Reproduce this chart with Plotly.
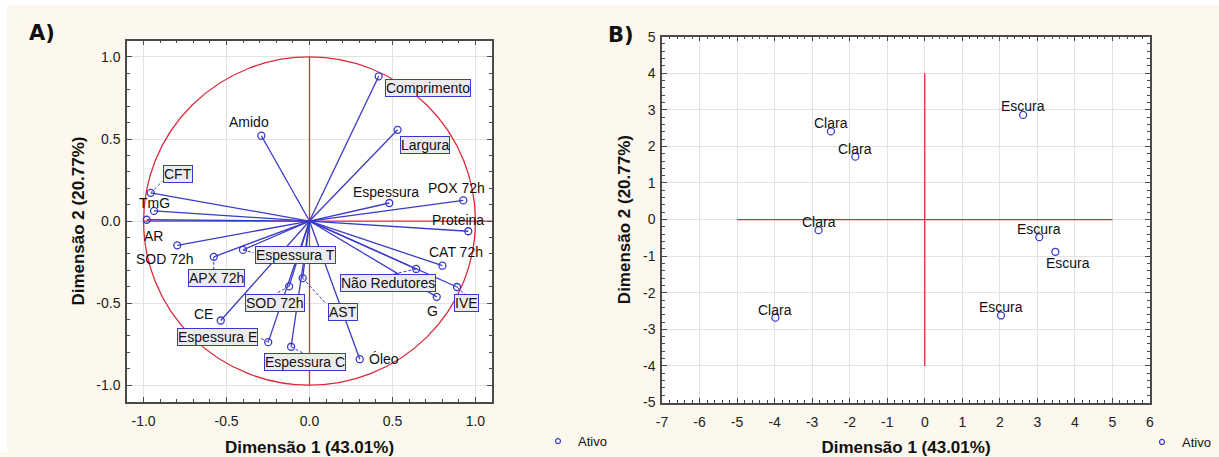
import plotly.graph_objects as go

W, H = 1219, 457

# Variable loadings on the first two dimensions
variaveis = ["Amido", "CFT", "TmG", "AR", "SOD 72h", "APX 72h", "Espessura T", "CE",
             "Espessura E", "SOD 72h", "AST", "Espessura C", "Óleo", "Comprimento",
             "Largura", "Espessura", "POX 72h", "Proteina", "CAT 72h", "Não Redutores",
             "IVE", "G"]
dim1_var = [-0.29, -0.957, -0.937, -0.981, -0.797, -0.577, -0.401, -0.535,
            -0.249, -0.123, -0.041, -0.111, 0.303, 0.417,
            0.531, 0.481, 0.927, 0.957, 0.801, 0.643,
            0.889, 0.767]
dim2_var = [0.52, 0.172, 0.062, 0.008, -0.148, -0.218, -0.176, -0.606,
            -0.738, -0.398, -0.348, -0.766, -0.842, 0.882,
            0.556, 0.110, 0.126, -0.062, -0.272, -0.292,
            -0.402, -0.462]

# Sample scores on the first two dimensions
amostras = ["Clara", "Clara", "Clara", "Clara", "Escura", "Escura", "Escura", "Escura"]
dim1_obs = [-2.5, -1.85, -2.83, -3.98, 2.62, 3.05, 3.48, 2.03]
dim2_obs = [2.41, 1.72, -0.29, -2.68, 2.86, -0.48, -0.88, -2.62]

# Tick values and labels
ticks_a = [-1.0, -0.5, 0.0, 0.5, 1.0]
ticktext_a = ["-1.0", "-0.5", "0.0", "0.5", "1.0"]
ticks_bx = [-7, -6, -5, -4, -3, -2, -1, 0, 1, 2, 3, 4, 5, 6]
ticktext_bx = ["-7", "-6", "-5", "-4", "-3", "-2", "-1", "0", "1", "2", "3", "4", "5", "6"]
ticks_by = [-5, -4, -3, -2, -1, 0, 1, 2, 3, 4, 5]
ticktext_by = ["-5", "-4", "-3", "-2", "-1", "0", "1", "2", "3", "4", "5"]

titulo_x = "Dimensão 1 (43.01%)"
titulo_y = "Dimensão 2 (20.77%)"

# Label placement for each variable: boxed?, pixel shift (dx, dy up), dashed leader end
label_layout = [
    (False, -12, 14, None),                  # Amido
    (True, 27.5, 19, (11.7, 11.6)),          # CFT
    (False, 0, 8, None),                     # TmG
    (False, 7, -16, None),                   # AR
    (False, -12.7, -13.5, None),             # SOD 72h
    (True, 2.5, -21, (0, -12.7)),            # APX 72h
    (True, 52.3, -4.7, (10.6, -2.7)),        # Espessura T
    (False, -17, 6.7, None),                 # CE
    (True, -50.2, 5, (-8, 4)),               # Espessura E
    (True, -13.7, -16.2, (-12.3, -6.7)),     # SOD 72h (boxed)
    (True, 39.8, -34.2, (22.3, -24.3)),      # AST
    (True, 14, -15.3, (12.3, -6.6)),         # Espessura C
    (False, 24.3, 0, None),                  # Óleo
    (True, 49.5, -12, None),                 # Comprimento
    (True, 27.8, -15.2, None),               # Largura
    (False, -3.5, 11, None),                 # Espessura
    (False, -6.7, 12, None),                 # POX 72h
    (False, -9.8, 11.7, None),               # Proteina
    (False, 13.3, 14, None),                 # CAT 72h
    (True, -28.2, -13.8, (-25, -5.7)),       # Não Redutores
    (True, 9.5, -15.5, (9, -8.3)),           # IVE
    (False, -4.3, -14, None),                # G
]
# Sample label shifts (dx, dy up)
obs_shift = [(0, 8), (0, 8), (0, 8), (0, 8), (0, 9), (0, 8), (13, -11), (0, 8)]

FONT = "Liberation Sans, Arial, sans-serif"
BLUE = "#3a3ac8"
RED = "#dc2a3c"
FRAME = "#4a4a4a"
GRID = "#e2e2e2"

fig = go.Figure()

# Vectors from the origin to each variable
vx, vy = [], []
for x, y in zip(dim1_var, dim2_var):
    vx += [0, x, None]
    vy += [0, y, None]
fig.add_trace(go.Scatter(x=vx, y=vy, mode="lines", line=dict(color=BLUE, width=1.3),
                         hoverinfo="skip", showlegend=False, xaxis="x", yaxis="y"))
fig.add_trace(go.Scatter(x=dim1_var, y=dim2_var, mode="markers", name="Ativo",
                         text=variaveis, showlegend=False,
                         marker=dict(symbol="circle-open", size=7, color=BLUE,
                                     line=dict(width=1.3)),
                         xaxis="x", yaxis="y"))

# Sample scores
fig.add_trace(go.Scatter(x=dim1_obs, y=dim2_obs, mode="markers", name="Ativo",
                         text=amostras, showlegend=False,
                         marker=dict(symbol="circle-open", size=7, color=BLUE,
                                     line=dict(width=1.3)),
                         xaxis="x2", yaxis="y2"))

# Legend entries (small open circle)
for leg, xa, ya in [("legend", "x", "y"), ("legend2", "x2", "y2")]:
    fig.add_trace(go.Scatter(x=[None], y=[None], mode="markers", name="Ativo",
                             marker=dict(symbol="circle-open", size=5, color=BLUE,
                                         line=dict(width=1.2)),
                             legend=leg, xaxis=xa, yaxis=ya))

shapes = []
annotations = []

# Unit circle and axis reference lines (panel A)
R = 1.0
shapes.append(dict(type="circle", xref="x", yref="y", x0=-R, x1=R, y0=-R, y1=R,
                   line=dict(color=RED, width=1.3), layer="between"))
shapes.append(dict(type="line", xref="x", yref="y", x0=-R, x1=1.1, y0=0, y1=0,
                   line=dict(color=RED, width=1.3), layer="between"))
shapes.append(dict(type="line", xref="x", yref="y", x0=0, x1=0, y0=-R, y1=R,
                   line=dict(color=RED, width=1.3), layer="between"))

# Reference lines (panel B)
shapes.append(dict(type="line", xref="x2", yref="y2", x0=-5, x1=5, y0=0, y1=0,
                   line=dict(color=RED, width=1.3), layer="between"))
shapes.append(dict(type="line", xref="x2", yref="y2", x0=0, x1=0, y0=-4, y1=4,
                   line=dict(color=RED, width=1.3), layer="between"))

# Variable labels
for name, x, y, (boxed, dx, dy, lead) in zip(variaveis, dim1_var, dim2_var, label_layout):
    ann = dict(text=name, x=x, y=y, xref="x", yref="y", xshift=dx, yshift=dy,
               showarrow=False, xanchor="center", yanchor="middle",
               font=dict(family=FONT, size=14, color="#111"))
    if boxed:
        ann.update(bordercolor=BLUE, borderwidth=1, borderpad=0, bgcolor="#ebebef")
    annotations.append(ann)
    if lead is not None:
        shapes.append(dict(type="line", xref="x", yref="y",
                           xsizemode="pixel", ysizemode="pixel",
                           xanchor=x, yanchor=y, x0=0, y0=0, x1=lead[0], y1=lead[1],
                           line=dict(color=BLUE, width=1, dash="3px,2px"),
                           layer="above"))

# Sample labels
for name, x, y, (dx, dy) in zip(amostras, dim1_obs, dim2_obs, obs_shift):
    annotations.append(dict(text=name, x=x, y=y, xref="x2", yref="y2",
                            xshift=dx, yshift=dy, showarrow=False,
                            font=dict(family=FONT, size=14, color="#111")))

# Panel letters
annotations.append(dict(text="<b>A)</b>", x=27 / W, y=1 - 33 / H, xref="paper", yref="paper",
                        xanchor="left", yanchor="middle", showarrow=False,
                        font=dict(family="DejaVu Sans, Verdana", size=21, color="#111")))
annotations.append(dict(text="<b>B)</b>", x=606 / W, y=1 - 35 / H, xref="paper", yref="paper",
                        xanchor="left", yanchor="middle", showarrow=False,
                        font=dict(family="DejaVu Sans, Verdana", size=21, color="#111")))

# White strip along the top and left edges of the page
shapes.append(dict(type="rect", xref="paper", yref="paper", x0=0, x1=1, y0=1 - 5 / H, y1=1,
                   fillcolor="white", line=dict(width=0), layer="below"))
shapes.append(dict(type="rect", xref="paper", yref="paper", x0=0, x1=7 / W, y0=0, y1=1,
                   fillcolor="white", line=dict(width=0), layer="below"))


def axis_style(domain, rng, tickvals, ticktext, minor_dtick, title, standoff, lblstandoff, anchor):
    return dict(
        domain=domain, range=rng, tickmode="array", tickvals=tickvals, ticktext=ticktext,
        showgrid=True, gridcolor=GRID, gridwidth=1, zeroline=False,
        showline=True, linecolor=FRAME, linewidth=1.5, mirror="allticks",
        ticks="inside", ticklen=5, tickcolor=FRAME, tickwidth=1,
        minor=dict(dtick=minor_dtick, tick0=0, ticks="inside", ticklen=3, tickcolor=FRAME,
                   showgrid=False),
        tickfont=dict(family=FONT, size=14, color="#222"),
        ticklabelstandoff=lblstandoff,
        title=dict(text=title, standoff=standoff,
                   font=dict(family=FONT, size=17, color="#111", weight="bold")),
        anchor=anchor, automargin=False,
    )


fig.update_layout(
    width=W, height=H,
    margin=dict(l=0, r=0, t=0, b=0),
    paper_bgcolor="#fcf8ee",
    plot_bgcolor="white",
    xaxis=axis_style([127 / W, 492 / W], [-1.1, 1.1], ticks_a, ticktext_a, 0.1,
                     titulo_x, 14, 6, "y"),
    yaxis=axis_style([1 - 406 / H, 1 - 41 / H], [-1.1, 1.1], ticks_a, ticktext_a, 0.1,
                     titulo_y, 7, 2, "x"),
    xaxis2=axis_style([662 / W, 1150 / W], [-7, 6], ticks_bx, ticktext_bx, 0.2,
                      titulo_x, 14, 6, "y2"),
    yaxis2=axis_style([1 - 407 / H, 1 - 37 / H], [-5, 5], ticks_by, ticktext_by, 0.2,
                      titulo_y, 8, 2, "x2"),
    shapes=shapes,
    annotations=annotations,
    legend=dict(x=538 / W, y=1 - 446 / H, xanchor="left", yanchor="middle",
                bgcolor="rgba(0,0,0,0)", font=dict(family=FONT, size=13, color="#111"),
                itemwidth=30),
    legend2=dict(x=1142 / W, y=1 - 447 / H, xanchor="left", yanchor="middle",
                 bgcolor="rgba(0,0,0,0)", font=dict(family=FONT, size=13, color="#111"),
                 itemwidth=30),
    hovermode="closest",
)

fig.write_html("out.html")
